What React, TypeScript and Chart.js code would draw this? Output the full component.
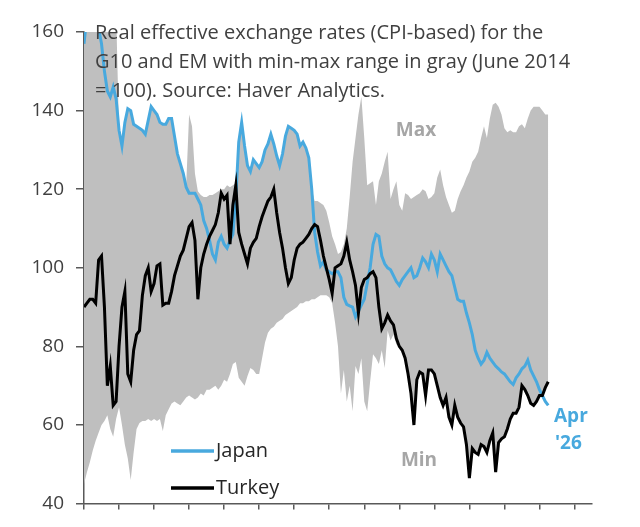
import { useEffect, useRef } from "react";
import { Chart, registerables } from "chart.js";

Chart.register(...registerables);

// Monthly observations, Jan 2013 .. Apr 2026 (160 months)
const START_YEAR = 2013;
const N_MONTHS = 160;
const months: string[] = Array.from({ length: N_MONTHS }, (_, i) =>
  `${START_YEAR + Math.floor(i / 12)}-${String((i % 12) + 1).padStart(2, "0")}`
);

const japan: number[] = [
  157, 164, 165, 163, 162, 161, 157, 150, 145, 143.5, 146, 143,
  135, 131, 137, 140.5, 140, 136.5, 136, 135.5, 135, 134, 137.5, 141,
  140, 139, 137, 136.5, 136.5, 138, 138, 133.5, 129, 126.5, 124, 120.5,
  119, 119, 119, 117.5, 116, 112, 110, 107, 103.5, 102, 106.5, 108,
  106, 105, 107, 108.5, 118, 132, 137, 131, 126, 124.5, 127.5, 126.5,
  125.5, 127, 130, 131.5, 134, 131.5, 128.5, 126, 129, 133.5, 136, 135.5,
  135, 134, 131, 132, 130.5, 128, 120, 109, 104, 100.5, 101.5, 99.5,
  99, 98.5, 99, 99, 97.5, 92.5, 90.7, 90.3, 90, 87.5, 89, 90.5,
  92, 96, 100, 106, 108.5, 108, 103, 101, 100, 99.5, 98, 96.5,
  95.5, 97, 98, 99, 100, 97.5, 98, 100, 102.5, 101.5, 100, 103.5,
  102, 99, 103.5, 102, 100.5, 99, 98, 95, 92, 91.5, 91.5, 88.5,
  86, 83, 79, 77, 75.5, 76.5, 78.5, 77, 76, 75, 74.3, 73.5,
  73, 72, 71, 70.3, 72, 73, 74.3, 75, 76.5, 74, 72.5, 71,
  69, 67.5, 66, 65,
];

const turkey: number[] = [
  90, 91, 92, 92, 91, 102, 103, 90, 70, 75, 65, 66,
  80, 90, 94, 73, 71, 79, 83, 84, 93, 98, 100, 94,
  96, 100.5, 101, 90.5, 91, 91, 94, 98, 100.5, 103, 104.5, 107.5,
  110.5, 111.5, 107, 92, 100, 103.5, 106, 108, 109.5, 111, 114, 119,
  117.5, 118.5, 106, 116, 121, 109, 106, 103.5, 101, 105, 106.5, 107.5,
  110.5, 113, 115, 117, 118, 120, 114, 109, 105, 100, 96, 97.5,
  102, 105, 106, 106.5, 107.5, 108.5, 110, 111, 110.5, 107, 103, 100,
  97, 93.5, 100, 100.5, 101, 103, 106.5, 102, 99, 95.5, 88.5, 95,
  97, 97.5, 98.5, 99, 97.5, 90, 84.5, 86, 88, 86.5, 85.5, 82,
  80, 79, 77, 73, 68, 60, 71.5, 73.5, 73, 67.5, 74, 74,
  73, 70, 67, 65, 67, 62, 60, 65, 62, 60.5, 59.5, 55,
  46.5, 54, 53, 52.5, 55, 54.5, 53, 56, 58, 48, 55.5, 56.5,
  57, 59, 61.5, 63, 63, 64.5, 70, 69, 67.5, 65.5, 65, 66,
  67.5, 67.5, 69.5, 71,
];

const rangeMax: number[] = [
  165, 165, 165, 165, 165, 165, 165, 165, 165, 165, 165, 165,
  135, 131, 137, 140.5, 140, 136.5, 136, 135.5, 135, 134, 137.5, 141,
  140, 139, 137, 136.5, 136.5, 138, 138, 133.5, 129, 126.5, 124, 121,
  139, 136, 124, 119.5, 118.5, 118, 118, 118.5, 118.5, 119, 119.5, 120,
  120, 121, 120.5, 121, 121.5, 132, 137, 131, 126, 124.5, 127.5, 126.5,
  125.5, 127, 130, 131.5, 134, 131.5, 128.5, 126, 129, 133.5, 136, 135.5,
  135, 134, 131, 132, 130.5, 128, 120, 117, 117, 116.5, 116, 114.5,
  111.5, 108, 106, 103.5, 104, 106, 110, 118, 127, 133, 139, 143.5,
  133, 121, 121.5, 122, 116, 122, 124, 127, 129.5, 117.5, 120, 122,
  116, 114.5, 119, 118.5, 117.5, 118, 118.5, 119, 120, 119.5, 117.5, 118,
  119, 123, 125, 121, 118, 116, 114, 114.5, 117.5, 119.5, 121, 123,
  124.5, 127, 128, 129.5, 133, 136, 133, 138, 141.5, 142, 141, 139,
  135.5, 134.5, 135, 134.5, 134.5, 136, 136.5, 135.5, 138, 140, 141, 141,
  141, 140, 139, 139,
];

const rangeMin: number[] = [
  45, 48, 50.5, 53.5, 56, 58, 60, 61, 62.5, 59, 57, 61.5,
  64.5, 60, 55, 51.5, 46, 53, 59, 60.5, 61, 61, 61.5, 61,
  61.5, 61, 61.5, 58.5, 62.5, 64, 65.5, 66, 65.5, 65, 66, 67,
  67.5, 67, 66.5, 67, 68, 67.5, 69, 69, 69.5, 70, 69, 70,
  71.5, 71, 73, 75.5, 76, 72, 71, 70, 72.5, 74.5, 74, 73,
  73, 77, 81, 83.5, 84.5, 85, 86, 86.5, 87, 88, 88.5, 89,
  89.5, 90, 91, 91, 91.5, 91.5, 92, 92, 92.5, 93, 93, 93,
  92.5, 91, 86, 80, 68, 74, 66, 70, 63.5, 75, 73, 77,
  66, 63.5, 71, 78, 77, 75.5, 79, 74.5, 84, 81.5, 83, 80.5,
  80, 79, 77, 73, 68, 60, 71.5, 73.5, 73, 67.5, 74, 74,
  73, 70, 67, 65, 67, 62, 60, 65, 62, 60.5, 59.5, 55,
  46.5, 54, 53, 52.5, 55, 54.5, 53, 56, 58, 48, 55.5, 56.5,
  57, 59, 61.5, 63, 63, 64.5, 70, 69, 67.5, 65.5, 65, 66,
  67.5, 67.5, 69.5, 71,
];

const yTicks: number[] = [40, 60, 80, 100, 120, 140, 160];
const yearTickMonths: number[] = [0, 12, 24, 36, 48, 60, 72, 84, 96, 108, 120, 132, 144, 156, 168];
const AXIS_END_MONTH = 174;

const titleLines: string[] = [
  "Real effective exchange rates (CPI-based) for the",
  "G10 and EM with min-max range in gray (June 2014",
  "= 100). Source: Haver Analytics.",
];

const BLUE = "#48a9de";
const GRAY = "#bfbfbf";
const AXIS = "#595959";
const TEXT = "#404040";
const FONT = "'Open Sans', 'DejaVu Sans', sans-serif";

export default function App() {
  const ref = useRef<HTMLCanvasElement>(null);

  useEffect(() => {
    document.body.style.margin = "0";
    if (!ref.current) return;
    const pts = (vals: number[]) => vals.map((v, i) => ({ x: i, y: v }));

    const annotations = {
      id: "annotations",
      afterDatasetsDraw(chart: any) {
        const { ctx, chartArea } = chart;
        const L = chartArea.left;
        const T = chartArea.top;
        ctx.save();
        // title
        ctx.fillStyle = TEXT;
        ctx.font = `20px ${FONT}`;
        ctx.textAlign = "left";
        ctx.textBaseline = "middle";
        titleLines.forEach((line, k) => {
          ctx.fillText(line, L + 11, T + 1 + k * 29.3);
        });
        // Max / Min labels
        ctx.fillStyle = "#a6a6a6";
        ctx.font = `bold 19px ${FONT}`;
        ctx.textAlign = "center";
        ctx.fillText("Max", 416, 131);
        ctx.fillText("Min", 419, 461);
        // Apr '26
        ctx.fillStyle = BLUE;
        ctx.textAlign = "left";
        ctx.fillText("Apr", 554, 417);
        ctx.fillText("'26", 555, 444);
        // legend
        const items = [
          { label: "Japan", color: BLUE, y: 451 },
          { label: "Turkey", color: "#000000", y: 488 },
        ];
        ctx.font = `20px ${FONT}`;
        items.forEach((it) => {
          ctx.strokeStyle = it.color;
          ctx.lineWidth = 3.5;
          ctx.beginPath();
          ctx.moveTo(171, it.y);
          ctx.lineTo(214, it.y);
          ctx.stroke();
          ctx.fillStyle = "#262626";
          ctx.textAlign = "left";
          ctx.fillText(it.label, 216, it.y);
        });
        ctx.restore();
      },
    };

    const chart = new Chart(ref.current, {
      type: "line",
      data: {
        labels: months,
        datasets: [
          {
            label: "Turkey",
            data: pts(turkey),
            borderColor: "#000000",
            borderWidth: 3,
            pointRadius: 0,
            fill: false,
            order: 0,
          },
          {
            label: "Japan",
            data: pts(japan),
            borderColor: BLUE,
            borderWidth: 3,
            pointRadius: 0,
            fill: false,
            order: 1,
          },
          {
            label: "Max",
            data: pts(rangeMax),
            borderColor: "rgba(0,0,0,0)",
            borderWidth: 0,
            backgroundColor: GRAY,
            pointRadius: 0,
            fill: "+1",
            order: 2,
          },
          {
            label: "Min",
            data: pts(rangeMin),
            borderColor: "rgba(0,0,0,0)",
            borderWidth: 0,
            pointRadius: 0,
            fill: false,
            order: 3,
          },
        ],
      },
      options: {
        animation: false,
        responsive: true,
        maintainAspectRatio: false,
        layout: { padding: { top: 32, right: 48, bottom: 0, left: 0 } },
        plugins: {
          legend: { display: false },
          tooltip: { enabled: false },
          title: { display: false },
        },
        elements: { line: { tension: 0 } },
        scales: {
          x: {
            type: "linear",
            min: 0,
            max: AXIS_END_MONTH,
            afterBuildTicks: (scale: any) => {
              scale.ticks = yearTickMonths.map((v) => ({ value: v }));
            },
            afterFit: (scale: any) => {
              scale.height = 19;
            },
            ticks: { display: false },
            grid: {
              drawOnChartArea: false,
              drawTicks: true,
              tickLength: 6,
              color: AXIS,
              lineWidth: 1.5,
            },
            border: { display: true, color: AXIS, width: 1.5 },
          },
          y: {
            min: 40,
            max: 160,
            afterBuildTicks: (scale: any) => {
              scale.ticks = yTicks.map((v) => ({ value: v }));
            },
            afterFit: (scale: any) => {
              scale.width = 84;
            },
            ticks: {
              color: TEXT,
              font: { family: FONT, size: 19 },
              padding: 12,
            },
            grid: {
              drawOnChartArea: false,
              drawTicks: true,
              tickLength: 8,
              color: AXIS,
              lineWidth: 1.5,
            },
            border: { display: true, color: AXIS, width: 1.5 },
          },
        },
      },
      plugins: [annotations],
    });

    return () => chart.destroy();
  }, []);

  return (
    <div style={{ position: "relative", width: 640, height: 527 }}>
      <canvas ref={ref} />
    </div>
  );
}
